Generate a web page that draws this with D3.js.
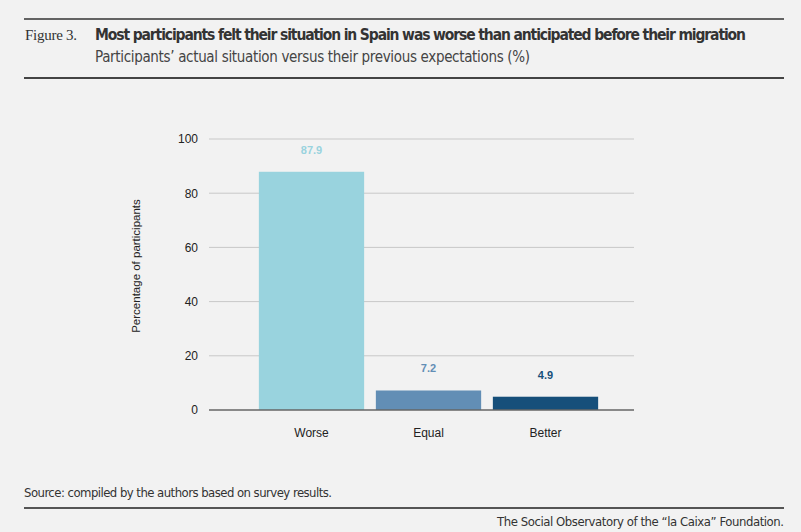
<!DOCTYPE html>
<html>
<head>
<meta charset="utf-8">
<script src="https://cdn.jsdelivr.net/npm/d3@7"></script>
<style>
  html, body { margin: 0; padding: 0; background: #f2f2f2; }
  svg { display: block; }
</style>
</head>
<body>
<div id="root"></div>
<script>
// chart values
const categories = ["Worse", "Equal", "Better"];
const values = [87.9, 7.2, 4.9];
const barColors = ["#99d3de", "#628eb5", "#164f7a"];
const yTicks = [0, 20, 40, 60, 80, 100];

const W = 801, H = 532;
const sans = "'Liberation Sans', Arial, sans-serif";
const narrow = "'Liberation Sans Narrow', 'DejaVu Sans Condensed', sans-serif";

const svg = d3.select("#root").append("svg")
  .attr("width", W)
  .attr("height", H)
  .style("background", "#f2f2f2");

// header rules
svg.append("line").attr("x1", 24).attr("x2", 784).attr("y1", 19).attr("y2", 19)
  .attr("stroke", "#333").attr("stroke-width", 1.6);
svg.append("line").attr("x1", 24).attr("x2", 784).attr("y1", 78).attr("y2", 78)
  .attr("stroke", "#444").attr("stroke-width", 1.8);

svg.append("text")
  .text("Figure 3.")
  .attr("x", 25).attr("y", 40)
  .style("font-family", "'Liberation Serif', 'DejaVu Serif', serif")
  .style("font-size", "15px")
  .attr("textLength", 52)
  .attr("fill", "#333");

svg.append("text")
  .text("Most participants felt their situation in Spain was worse than anticipated before their migration")
  .attr("x", 95).attr("y", 40)
  .style("font-family", narrow)
  .style("font-size", "15.5px")
  .style("font-weight", "bold")
  .attr("textLength", 651)
  .attr("fill", "#333");

svg.append("text")
  .text("Participants\u2019 actual situation versus their previous expectations (%)")
  .attr("x", 95).attr("y", 62)
  .style("font-family", narrow)
  .style("font-size", "15px")
  .attr("textLength", 435)
  .attr("fill", "#444");

// plot
const y = d3.scaleLinear().domain([0, 100]).range([410, 139]);
const x = d3.scaleBand().domain(categories).range([253, 604])
  .paddingInner(0.1).paddingOuter(0.05);
const plotLeft = 209, plotRight = 634;

const grid = svg.append("g");
grid.selectAll("line")
  .data(yTicks.filter(d => d > 0))
  .join("line")
  .attr("x1", plotLeft).attr("x2", plotRight)
  .attr("y1", d => y(d)).attr("y2", d => y(d))
  .attr("stroke", "#c8c8c8").attr("stroke-width", 1);

const yAxis = svg.append("g")
  .attr("transform", `translate(${plotLeft},0)`)
  .call(d3.axisLeft(y).tickValues(yTicks).tickSize(0).tickPadding(11));
yAxis.select(".domain").remove();
yAxis.selectAll("text")
  .style("font-family", sans)
  .style("font-size", "12px")
  .attr("fill", "#222");

svg.append("g")
  .selectAll("rect")
  .data(values)
  .join("rect")
  .attr("x", (d, i) => x(categories[i]))
  .attr("width", x.bandwidth())
  .attr("y", d => y(d))
  .attr("height", d => y(0) - y(d))
  .attr("fill", (d, i) => barColors[i]);

svg.append("g")
  .selectAll("text")
  .data(values)
  .join("text")
  .text(d => d.toFixed(1))
  .attr("x", (d, i) => x(categories[i]) + x.bandwidth() / 2)
  .attr("y", d => y(d) - 18)
  .attr("text-anchor", "middle")
  .style("font-family", sans)
  .style("font-size", "11px")
  .style("font-weight", "bold")
  .attr("fill", (d, i) => barColors[i]);

// baseline
svg.append("line")
  .attr("x1", plotLeft).attr("x2", plotRight)
  .attr("y1", y(0)).attr("y2", y(0))
  .attr("stroke", "#666").attr("stroke-width", 1.3);

const xAxis = svg.append("g")
  .attr("transform", `translate(0,${y(0)})`)
  .call(d3.axisBottom(x).tickSize(0).tickPadding(18));
xAxis.select(".domain").remove();
xAxis.selectAll("text")
  .style("font-family", sans)
  .style("font-size", "12px")
  .attr("fill", "#222");

svg.append("text")
  .text("Percentage of participants")
  .attr("transform", "translate(140,266) rotate(-90)")
  .attr("text-anchor", "middle")
  .style("font-family", sans)
  .style("font-size", "11.5px")
  .attr("fill", "#222");

// footer
svg.append("text")
  .text("Source: compiled by the authors based on survey results.")
  .attr("x", 24).attr("y", 497)
  .style("font-family", narrow)
  .style("font-size", "13px")
  .attr("textLength", 308)
  .attr("fill", "#333");

svg.append("line").attr("x1", 24).attr("x2", 784).attr("y1", 508).attr("y2", 508)
  .attr("stroke", "#555").attr("stroke-width", 1.8);

svg.append("text")
  .text("The Social Observatory of the \u201Cla Caixa\u201D Foundation.")
  .attr("x", 784).attr("y", 526)
  .attr("text-anchor", "end")
  .style("font-family", narrow)
  .style("font-size", "13px")
  .attr("textLength", 287)
  .attr("fill", "#333");
</script>
</body>
</html>
